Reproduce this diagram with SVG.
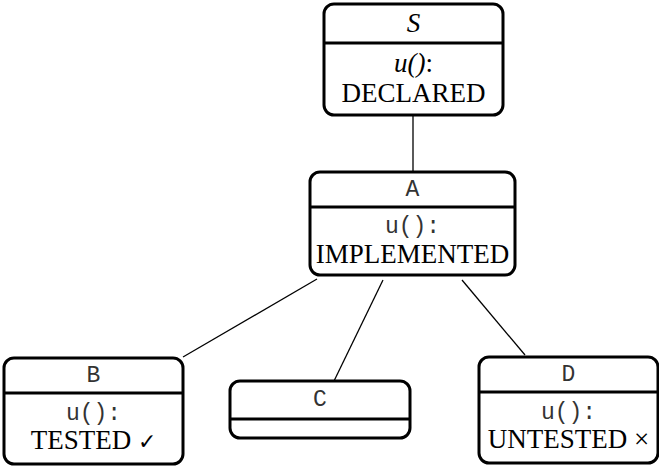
<svg xmlns="http://www.w3.org/2000/svg" width="659" height="470" viewBox="0 0 659 470">
<style>
.box{fill:#fff;stroke:#000;stroke-width:3}
.div{stroke:#000;stroke-width:3}
.edge{stroke:#000;stroke-width:1.3;fill:none}
.serif{font-family:"Liberation Serif","Times New Roman",serif;font-size:27px;text-anchor:middle;fill:#000}
.it{font-style:italic}
.mono{font-family:"Liberation Mono","Courier New",monospace;font-size:23px;text-anchor:middle;fill:#333}
</style>
<g id="connectors">
<line class="edge" x1="413" y1="116" x2="413" y2="172"/>
<line class="edge" x1="317" y1="279" x2="183" y2="357"/>
<line class="edge" x1="383" y1="280" x2="334" y2="381"/>
<line class="edge" x1="462" y1="280" x2="525" y2="355"/>
</g>
<g id="S">
<rect class="box" x="324" y="4" width="179" height="111" rx="10"/>
<line class="div" x1="324" y1="43" x2="503" y2="43"/>
<text class="serif it" x="413.5" y="32">S</text>
<text class="serif" x="413.5" y="72"><tspan class="it">u()</tspan>:</text>
<text class="serif" x="413.5" y="102">DECLARED</text>
</g>
<g id="A">
<rect class="box" x="310" y="172" width="205" height="103" rx="10"/>
<line class="div" x1="310" y1="207" x2="515" y2="207"/>
<text class="mono" x="412.5" y="196">A</text>
<text class="mono" x="412.5" y="233">u():</text>
<text class="serif" x="412.5" y="263">IMPLEMENTED</text>
</g>
<g id="B">
<rect class="box" x="4" y="358" width="179" height="106" rx="10"/>
<line class="div" x1="4" y1="393" x2="183" y2="393"/>
<text class="mono" x="93.5" y="382">B</text>
<text class="mono" x="93.5" y="420">u():</text>
<text class="serif" x="93.5" y="449">TESTED <tspan font-family="DejaVu Sans" font-size="22">✓</tspan></text>
</g>
<g id="C">
<rect class="box" x="230" y="381" width="180" height="57" rx="10"/>
<line class="div" x1="230" y1="419" x2="410" y2="419"/>
<text class="mono" x="320" y="406">C</text>
</g>
<g id="D">
<rect class="box" x="479" y="357" width="179" height="106" rx="10"/>
<line class="div" x1="479" y1="392" x2="658" y2="392"/>
<text class="mono" x="568.5" y="381">D</text>
<text class="mono" x="568.5" y="419">u():</text>
<text class="serif" x="568.5" y="448">UNTESTED ×</text>
</g>
</svg>
